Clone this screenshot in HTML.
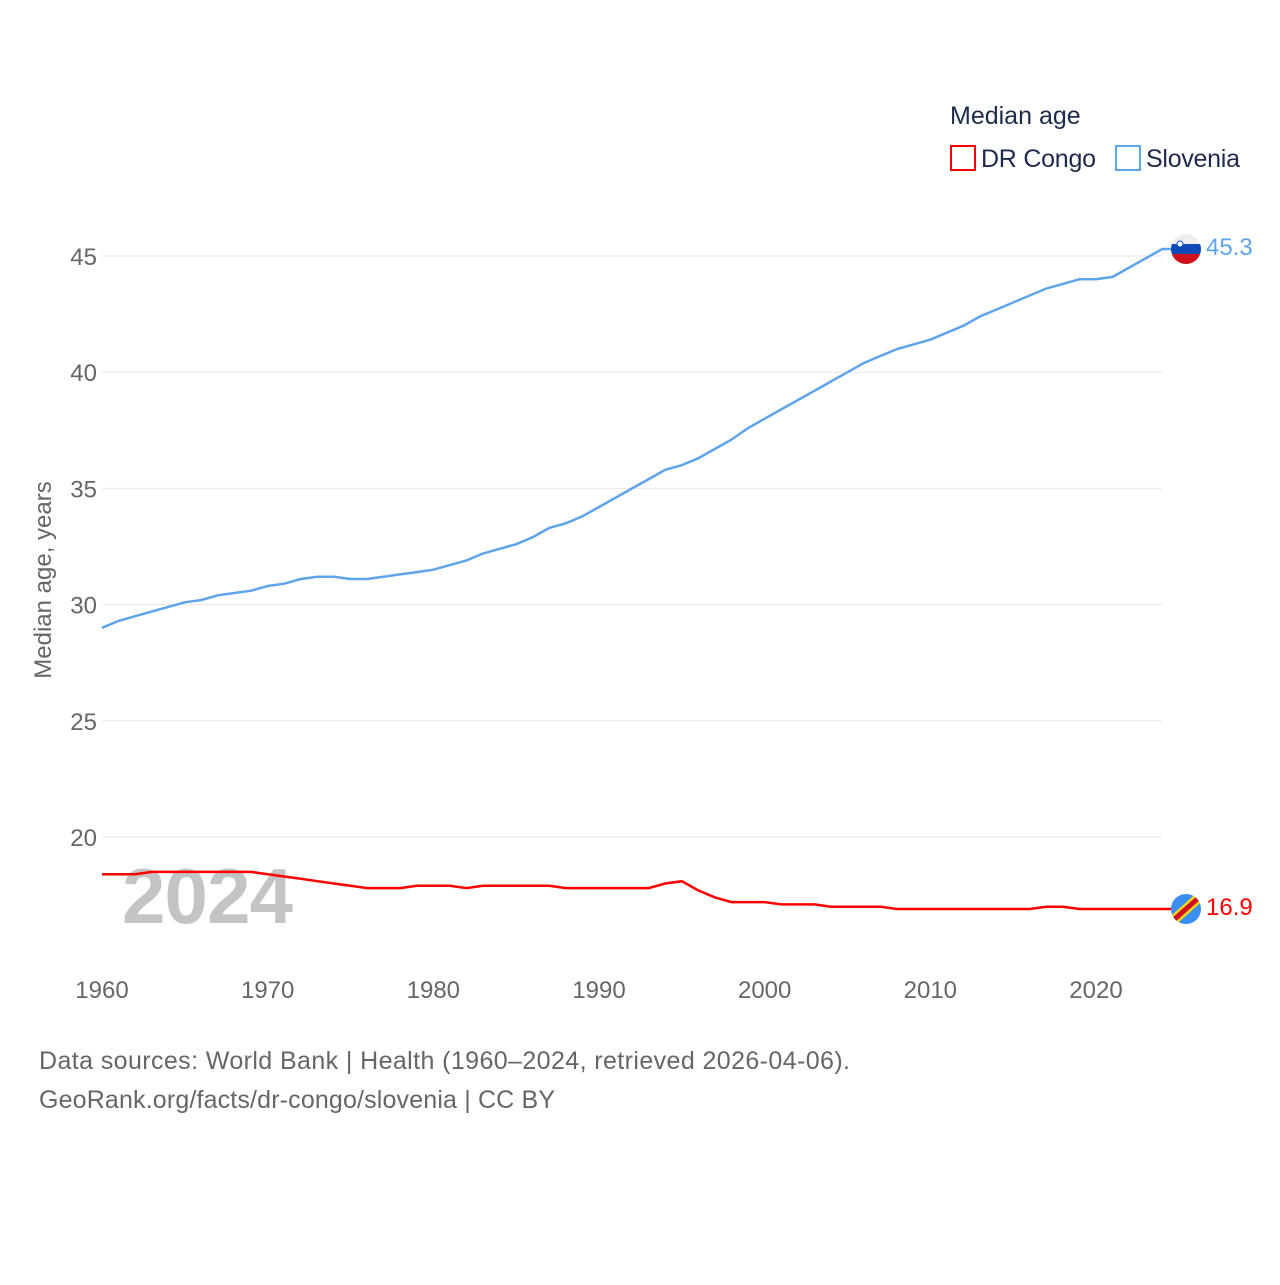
<!DOCTYPE html>
<html><head><meta charset="utf-8"><style>
body{margin:0;background:#fff;font-family:"Liberation Sans",sans-serif}
svg text{font-family:"Liberation Sans",sans-serif}
</style></head><body>
<svg width="1280" height="1280" viewBox="0 0 1280 1280">
<g id="grid"></g>
<g id="yt"></g>
<g id="xt"></g>
<text x="51" y="580" font-size="24" fill="#666" text-anchor="middle" transform="rotate(-90 51 580)">Median age, years</text>
<text x="122" y="923" font-size="78" font-weight="bold" fill="#c4c4c4" textLength="171">2024</text>
<path id="congo" fill="none" stroke="#ff0000" stroke-width="2.5"/>
<path id="slo" fill="none" stroke="#5ea4ea" stroke-width="2.5"/>
<g id="ends"></g>
<text x="950" y="124" font-size="25" fill="#1c2b4a">Median age</text>
<rect x="951" y="146" width="24" height="24" fill="none" stroke="#ff0000" stroke-width="2"/>
<text x="981" y="167" font-size="25" fill="#1c2b4a" textLength="115">DR Congo</text>
<rect x="1116" y="146" width="24" height="24" fill="none" stroke="#5ea4ea" stroke-width="2"/>
<text x="1146" y="167" font-size="25" fill="#1c2b4a" textLength="94">Slovenia</text>
<text x="39" y="1069" font-size="25" fill="#666" textLength="811">Data sources: World Bank | Health (1960–2024, retrieved 2026-04-06).</text>
<text x="39" y="1108" font-size="25" fill="#666" textLength="516">GeoRank.org/facts/dr-congo/slovenia | CC BY</text>
</svg>
<script>
const years=[];for(let y=1960;y<=2024;y++)years.push(y);
const slovenia=[29.0,29.3,29.5,29.7,29.9,30.1,30.2,30.4,30.5,30.6,30.8,30.9,31.1,31.2,31.2,31.1,31.1,31.2,31.3,31.4,31.5,31.7,31.9,32.2,32.4,32.6,32.9,33.3,33.5,33.8,34.2,34.6,35.0,35.4,35.8,36.0,36.3,36.7,37.1,37.6,38.0,38.4,38.8,39.2,39.6,40.0,40.4,40.7,41.0,41.2,41.4,41.7,42.0,42.4,42.7,43.0,43.3,43.6,43.8,44.0,44.0,44.1,44.5,44.9,45.3];
const congo=[18.4,18.4,18.4,18.5,18.5,18.5,18.5,18.5,18.5,18.5,18.4,18.3,18.2,18.1,18.0,17.9,17.8,17.8,17.8,17.9,17.9,17.9,17.8,17.9,17.9,17.9,17.9,17.9,17.8,17.8,17.8,17.8,17.8,17.8,18.0,18.1,17.7,17.4,17.2,17.2,17.2,17.1,17.1,17.1,17.0,17.0,17.0,17.0,16.9,16.9,16.9,16.9,16.9,16.9,16.9,16.9,16.9,17.0,17.0,16.9,16.9,16.9,16.9,16.9,16.9];
const yTicks=[20,25,30,35,40,45];
const xTicks=[1960,1970,1980,1990,2000,2010,2020];
const X=y=>102+(y-1960)*994/60;
const Y=v=>256+(45-v)*581/25;
const NS='http://www.w3.org/2000/svg';
function mk(t,a,p,txt){const e=document.createElementNS(NS,t);for(const k in a)e.setAttribute(k,a[k]);if(txt!=null)e.textContent=txt;document.getElementById(p).appendChild(e);return e;}
yTicks.forEach(v=>{
 const l=mk('line',{x1:102,x2:1162,y1:Y(v),y2:Y(v),stroke:'#e6e6e6','stroke-width':1},'grid');
 
 
 const t=mk('text',{x:97,y:Y(v)+9,'font-size':24,fill:'#666','text-anchor':'end'},'yt',v);
 
 
});
xTicks.forEach(v=>{
 const t=mk('text',{x:X(v),y:998,'font-size':24,fill:'#666','text-anchor':'middle'},'xt',v);
 
 
});
const path=a=>a.map((v,i)=>(i?'L':'M')+X(years[i]).toFixed(1)+','+Y(v).toFixed(1)).join('');
document.getElementById('slo').setAttribute('d',path(slovenia)+'H1186');
document.getElementById('congo').setAttribute('d',path(congo)+'H1186');
function endMark(vals,col,name,draw){
 const v=vals[vals.length-1],y=Y(v);
 const g=mk('g',{},'ends');
 
 
 g.innerHTML=draw(y);
 const t=mk('text',{x:1206,y:y+6,'font-size':24,fill:col},'ends',v.toFixed(1));
 
 
}
endMark(slovenia,'#5ea4ea','slovenia',y=>`<clipPath id="c1"><circle cx="1186" cy="${y}" r="15"/></clipPath><g clip-path="url(#c1)"><rect x="1170" y="${y-15}" width="32" height="10" fill="#eee"/><rect x="1170" y="${y-5}" width="32" height="10" fill="#0c4bb7"/><rect x="1170" y="${y+5}" width="32" height="10" fill="#d0101a"/></g><circle cx="1180" cy="${y-5}" r="3" fill="#fff" stroke="#0c4bb7"/>`);
endMark(congo,'#ff0000','dr-congo',y=>`<clipPath id="c2"><circle cx="1186" cy="${y}" r="15"/></clipPath><g clip-path="url(#c2)"><rect x="1170" y="${y-15}" width="32" height="32" fill="#3a8ef0"/><line x1="1168" y1="${y+16}" x2="1204" y2="${y-16}" stroke="#f7d618" stroke-width="10"/><line x1="1168" y1="${y+16}" x2="1204" y2="${y-16}" stroke="#ce1021" stroke-width="5"/></g>`);
</script>
</body></html>
